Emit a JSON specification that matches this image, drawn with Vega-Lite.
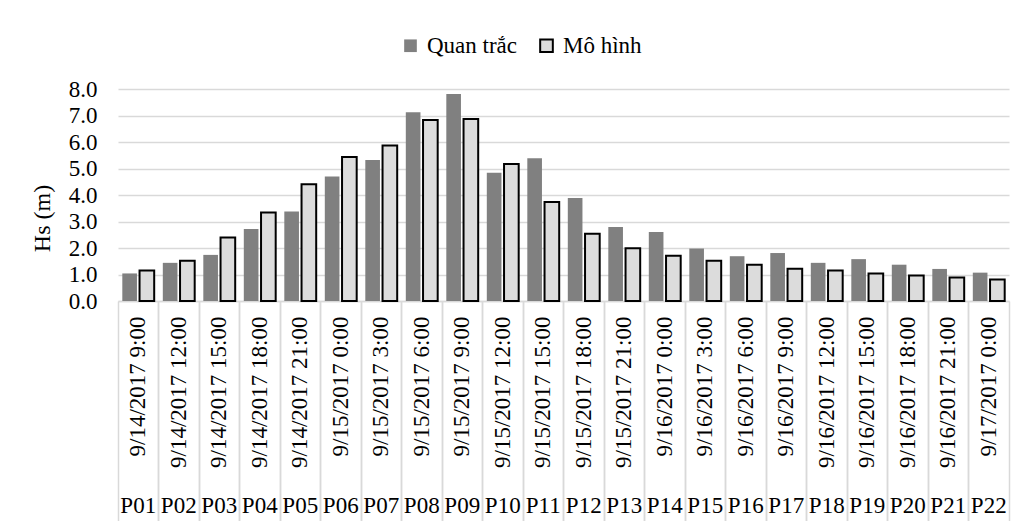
{
  "$schema": "https://vega.github.io/schema/vega-lite/v6.json",
  "width": 891,
  "height": 212,
  "autosize": {"type": "none"},
  "padding": {"top": 89, "left": 118, "right": 10, "bottom": 220},
  "background": "white",
  "config": {"view": {"stroke": null}},
  "data": {
    "values": [
      {"point": "P01", "time": "9/14/2017 9:00", "series": "Quan trắc", "hs": 1.04},
      {"point": "P01", "time": "9/14/2017 9:00", "series": "Mô hình", "hs": 1.15},
      {"point": "P02", "time": "9/14/2017 12:00", "series": "Quan trắc", "hs": 1.44},
      {"point": "P02", "time": "9/14/2017 12:00", "series": "Mô hình", "hs": 1.52},
      {"point": "P03", "time": "9/14/2017 15:00", "series": "Quan trắc", "hs": 1.74},
      {"point": "P03", "time": "9/14/2017 15:00", "series": "Mô hình", "hs": 2.4},
      {"point": "P04", "time": "9/14/2017 18:00", "series": "Quan trắc", "hs": 2.72},
      {"point": "P04", "time": "9/14/2017 18:00", "series": "Mô hình", "hs": 3.34},
      {"point": "P05", "time": "9/14/2017 21:00", "series": "Quan trắc", "hs": 3.38},
      {"point": "P05", "time": "9/14/2017 21:00", "series": "Mô hình", "hs": 4.41},
      {"point": "P06", "time": "9/15/2017 0:00", "series": "Quan trắc", "hs": 4.7},
      {"point": "P06", "time": "9/15/2017 0:00", "series": "Mô hình", "hs": 5.43},
      {"point": "P07", "time": "9/15/2017 3:00", "series": "Quan trắc", "hs": 5.32},
      {"point": "P07", "time": "9/15/2017 3:00", "series": "Mô hình", "hs": 5.87},
      {"point": "P08", "time": "9/15/2017 6:00", "series": "Quan trắc", "hs": 7.12},
      {"point": "P08", "time": "9/15/2017 6:00", "series": "Mô hình", "hs": 6.83},
      {"point": "P09", "time": "9/15/2017 9:00", "series": "Quan trắc", "hs": 7.81},
      {"point": "P09", "time": "9/15/2017 9:00", "series": "Mô hình", "hs": 6.87},
      {"point": "P10", "time": "9/15/2017 12:00", "series": "Quan trắc", "hs": 4.84},
      {"point": "P10", "time": "9/15/2017 12:00", "series": "Mô hình", "hs": 5.17},
      {"point": "P11", "time": "9/15/2017 15:00", "series": "Quan trắc", "hs": 5.39},
      {"point": "P11", "time": "9/15/2017 15:00", "series": "Mô hình", "hs": 3.74},
      {"point": "P12", "time": "9/15/2017 18:00", "series": "Quan trắc", "hs": 3.89},
      {"point": "P12", "time": "9/15/2017 18:00", "series": "Mô hình", "hs": 2.54},
      {"point": "P13", "time": "9/15/2017 21:00", "series": "Quan trắc", "hs": 2.79},
      {"point": "P13", "time": "9/15/2017 21:00", "series": "Mô hình", "hs": 1.99},
      {"point": "P14", "time": "9/16/2017 0:00", "series": "Quan trắc", "hs": 2.6},
      {"point": "P14", "time": "9/16/2017 0:00", "series": "Mô hình", "hs": 1.71},
      {"point": "P15", "time": "9/16/2017 3:00", "series": "Quan trắc", "hs": 1.98},
      {"point": "P15", "time": "9/16/2017 3:00", "series": "Mô hình", "hs": 1.52},
      {"point": "P16", "time": "9/16/2017 6:00", "series": "Quan trắc", "hs": 1.69},
      {"point": "P16", "time": "9/16/2017 6:00", "series": "Mô hình", "hs": 1.37},
      {"point": "P17", "time": "9/16/2017 9:00", "series": "Quan trắc", "hs": 1.81},
      {"point": "P17", "time": "9/16/2017 9:00", "series": "Mô hình", "hs": 1.22},
      {"point": "P18", "time": "9/16/2017 12:00", "series": "Quan trắc", "hs": 1.44},
      {"point": "P18", "time": "9/16/2017 12:00", "series": "Mô hình", "hs": 1.15},
      {"point": "P19", "time": "9/16/2017 15:00", "series": "Quan trắc", "hs": 1.58},
      {"point": "P19", "time": "9/16/2017 15:00", "series": "Mô hình", "hs": 1.04},
      {"point": "P20", "time": "9/16/2017 18:00", "series": "Quan trắc", "hs": 1.37},
      {"point": "P20", "time": "9/16/2017 18:00", "series": "Mô hình", "hs": 0.96},
      {"point": "P21", "time": "9/16/2017 21:00", "series": "Quan trắc", "hs": 1.21},
      {"point": "P21", "time": "9/16/2017 21:00", "series": "Mô hình", "hs": 0.89},
      {"point": "P22", "time": "9/17/2017 0:00", "series": "Quan trắc", "hs": 1.07},
      {"point": "P22", "time": "9/17/2017 0:00", "series": "Mô hình", "hs": 0.81}
    ]
  },
  "resolve": {"scale": {"x": "shared"}, "axis": {"x": "independent"}},
  "layer": [
    {
      "mark": {"type": "bar", "stroke": "#000000"},
      "encoding": {
        "x": {
          "field": "time",
          "type": "nominal",
          "sort": null,
          "scale": {"paddingInner": 0, "paddingOuter": 0},
          "axis": {
            "orient": "bottom",
            "title": null,
            "domain": true,
            "domainColor": "#d9d9d9",
            "domainWidth": 1.5,
            "ticks": true,
            "tickColor": "#d9d9d9",
            "tickWidth": 1.5,
            "tickSize": 220,
            "bandPosition": 0,
            "labelAngle": -90,
            "labelAlign": "right",
            "labelBaseline": "middle",
            "labelPadding": -205,
            "labelFont": "Liberation Serif",
            "labelFontSize": 23,
            "labelColor": "#000000",
            "labelOverlap": false,
            "labelBound": false,
            "grid": false
          }
        },
        "xOffset": {
          "field": "series",
          "type": "nominal",
          "sort": ["Quan trắc", "Mô hình"],
          "scale": {"paddingInner": 0.15, "paddingOuter": 0.25}
        },
        "y": {
          "field": "hs",
          "type": "quantitative",
          "scale": {"domain": [0, 8], "nice": false},
          "axis": {
            "title": "Hs (m)",
            "titleFont": "Liberation Serif",
            "titleFontSize": 24,
            "titleFontWeight": "normal",
            "titleColor": "#000000",
            "titlePadding": 14,
            "titleY": 129,
            "values": [0, 1, 2, 3, 4, 5, 6, 7, 8],
            "format": ".1f",
            "labelFont": "Liberation Serif",
            "labelFontSize": 23,
            "labelColor": "#000000",
            "labelPadding": 21,
            "ticks": false,
            "domain": false,
            "grid": true,
            "gridColor": "#d9d9d9",
            "gridWidth": 1.5
          }
        },
        "fill": {
          "field": "series",
          "type": "nominal",
          "sort": ["Quan trắc", "Mô hình"],
          "scale": {"domain": ["Quan trắc", "Mô hình"], "range": ["#808080", "#dcdcdc"]},
          "legend": {
            "title": null,
            "orient": "none",
            "legendX": 281,
            "legendY": -55,
            "direction": "horizontal",
            "symbolType": "square",
            "symbolSize": 160,
            "symbolStrokeColor": "#000000",
            "labelFont": "Liberation Serif",
            "labelFontSize": 23,
            "labelColor": "#000000",
            "labelOffset": 5,
            "columnPadding": 17
          }
        },
        "strokeWidth": {
          "field": "series",
          "type": "nominal",
          "sort": ["Quan trắc", "Mô hình"],
          "scale": {"domain": ["Quan trắc", "Mô hình"], "range": [0, 2]},
          "legend": {
            "title": null,
            "orient": "none",
            "legendX": 281,
            "legendY": -55,
            "direction": "horizontal",
            "symbolType": "square",
            "symbolSize": 160,
            "labelFont": "Liberation Serif",
            "labelFontSize": 23,
            "labelColor": "#000000",
            "labelOffset": 5,
            "columnPadding": 17
          }
        }
      }
    },
    {
      "mark": {"type": "tick", "opacity": 0},
      "encoding": {
        "x": {
          "field": "time",
          "type": "nominal",
          "sort": null,
          "axis": {
            "orient": "bottom",
            "title": null,
            "domain": false,
            "ticks": true,
            "tickColor": "#d9d9d9",
            "tickWidth": 1.5,
            "tickSize": 220,
            "bandPosition": 1,
            "labelAngle": 0,
            "labelAlign": "center",
            "labelBaseline": "top",
            "labelPadding": -27,
            "labelFont": "Liberation Serif",
            "labelFontSize": 23,
            "labelColor": "#000000",
            "labelOverlap": false,
            "labelBound": false,
            "labelExpr": "'P' + (indexof(domain('x'), datum.value) < 9 ? '0' : '') + (indexof(domain('x'), datum.value) + 1)",
            "grid": false
          }
        }
      }
    }
  ]
}
